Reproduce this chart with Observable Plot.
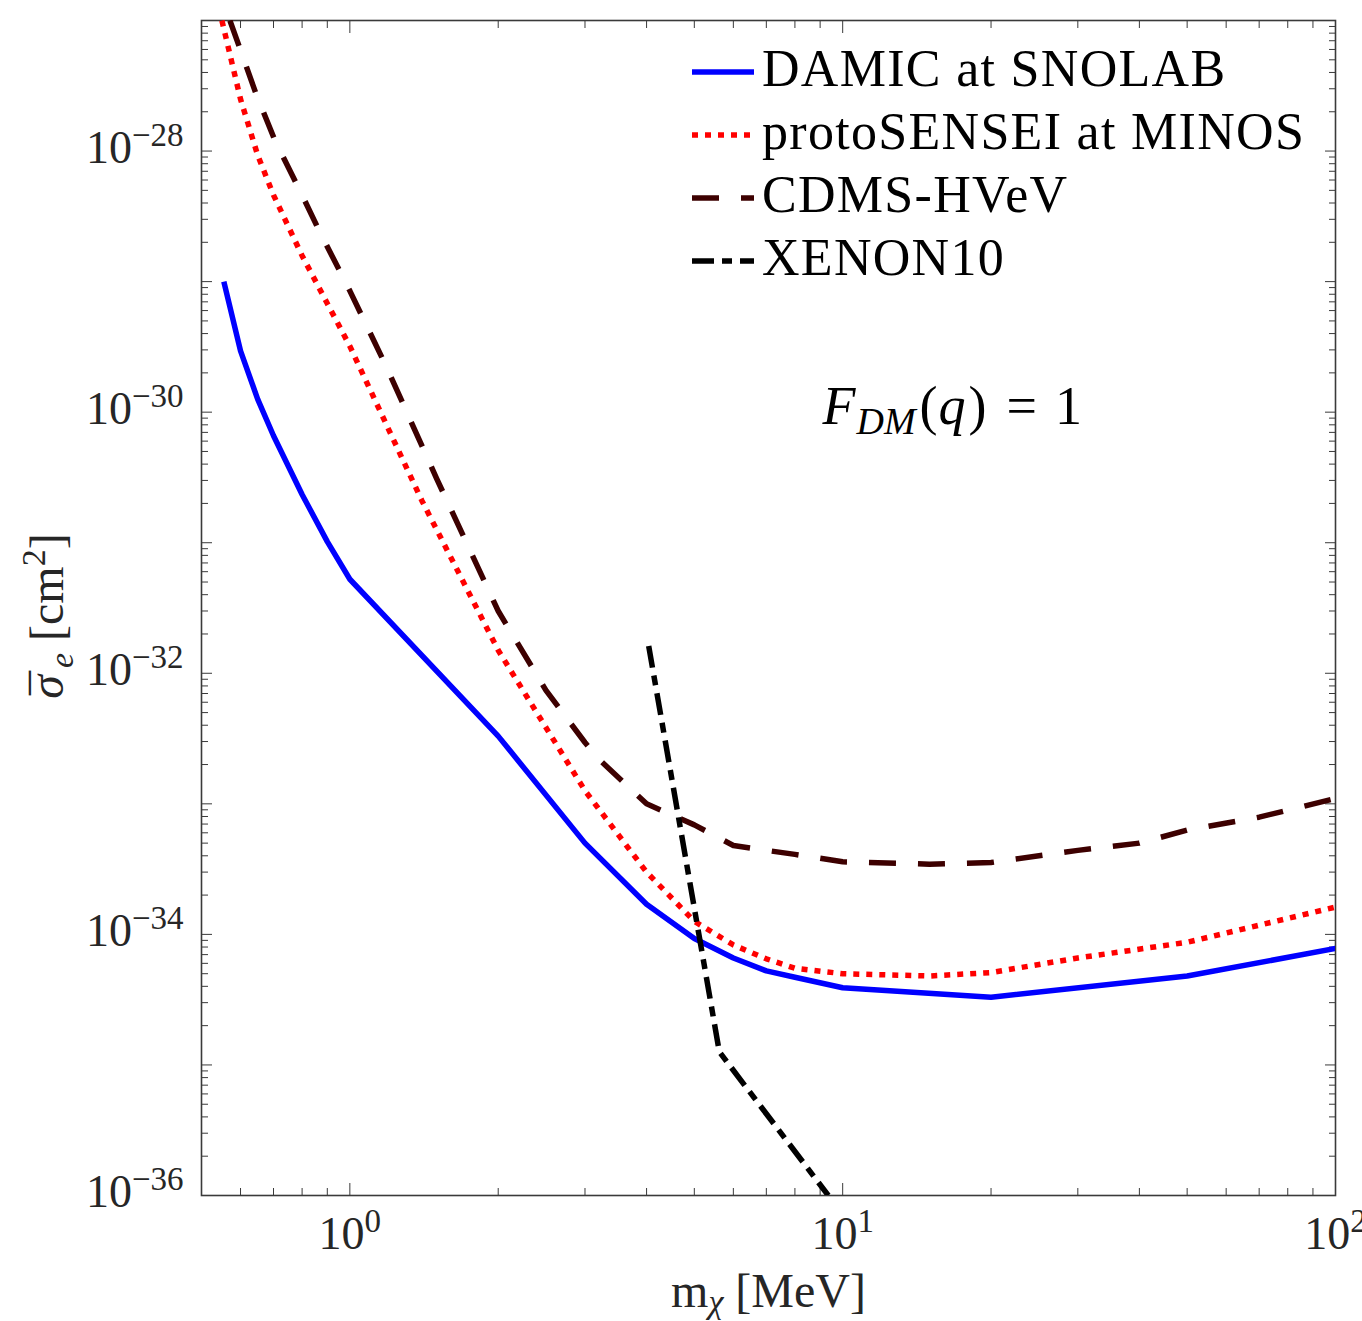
<!DOCTYPE html>
<html>
<head>
<meta charset="utf-8">
<script src="https://cdn.jsdelivr.net/npm/d3@7"></script>
<script src="https://cdn.jsdelivr.net/npm/@observablehq/plot@0.6"></script>
<style>
  html, body { margin: 0; padding: 0; background: #ffffff; }
  #chart svg { display: block; }
</style>
</head>
<body>
<div id="chart"></div>
<script>
// ---------------- data ----------------
const damicMass  = [0.555, 0.60, 0.65, 0.70, 0.80, 0.90, 1.0, 2.0, 3.0, 4.0, 5.0, 6.0, 7.0, 8.0, 10, 20, 50, 100];
const damicSigma = [1.0e-29, 2.95e-30, 1.26e-30, 6.6e-31, 2.34e-31, 1.02e-31, 5.25e-32, 3.3e-33, 5.0e-34, 1.7e-34, 9.3e-35, 6.6e-35, 5.25e-35, 4.7e-35, 3.9e-35, 3.3e-35, 4.8e-35, 7.8e-35];

const sensiMass  = [0.55, 0.60, 0.65, 0.70, 0.80, 0.90, 1.0, 1.4, 2.0, 3.0, 4.0, 5.0, 6.0, 7.0, 8.0, 10, 15, 20, 30, 50, 100];
const sensiSigma = [1.0e-27, 2.5e-28, 9.3e-29, 4.6e-29, 1.58e-29, 6.8e-30, 3.2e-30, 2.1e-31, 1.5e-32, 1.26e-33, 3.0e-34, 1.26e-34, 8.3e-35, 6.5e-35, 5.5e-35, 5.0e-35, 4.8e-35, 5.1e-35, 6.6e-35, 8.7e-35, 1.62e-34];

const cdmsMass  = [0.571, 0.645, 0.705, 0.80, 0.869, 1.0, 1.188, 1.5, 2.0, 2.5, 3.0, 3.2, 4.0, 5.0, 6.0, 7.0, 8.0, 10, 15, 20, 30, 40, 50, 70, 100];
const cdmsSigma = [1.0e-27, 2.75e-28, 1.2e-28, 4.6e-29, 2.4e-29, 8.5e-30, 2.2e-30, 3.1e-31, 3.0e-32, 7.4e-33, 2.95e-33, 2.2e-33, 1.0e-33, 6.9e-34, 4.8e-34, 4.4e-34, 4.1e-34, 3.6e-34, 3.45e-34, 3.55e-34, 4.4e-34, 5.0e-34, 6.3e-34, 7.9e-34, 1.1e-33];

const xenonMass  = [4.04, 5.62, 9.35];
const xenonSigma = [1.62e-32, 1.26e-35, 1.0e-36];

const seriesNames = ["DAMIC at SNOLAB", "protoSENSEI at MINOS", "CDMS-HVeV", "XENON10"];

// axis ticks
const xMajorTicks = [1, 10, 100];
const xMinorTicks = [0.6, 0.7, 0.8, 0.9, 2, 3, 4, 5, 6, 7, 8, 9, 20, 30, 40, 50, 60, 70, 80, 90];
const yDecadeExponents = [-36, -35, -34, -33, -32, -31, -30, -29, -28, -27];
const yLabelExponents = [-36, -34, -32, -30, -28];
const minorMultipliers = [2, 3, 4, 5, 6, 7, 8, 9];

const xAxisLabel = "m_chi [MeV]";
const yAxisLabel = "sigma_e [cm^2]";
const annotationText = "F_DM(q) = 1";

// ---------------- derived tables ----------------
const toRows = (m, s) => m.map((v, i) => ({m: v, s: s[i]}));
const damic = toRows(damicMass, damicSigma);
const sensi = toRows(sensiMass, sensiSigma);
const cdms = toRows(cdmsMass, cdmsSigma);
const xenon = toRows(xenonMass, xenonSigma);

const yMajorTicks = yDecadeExponents.map(e => +("1e" + e));
const yLabelTicks = yLabelExponents.map(e => +("1e" + e));
const yMinorTicks = yDecadeExponents.slice(0, -1).flatMap(e => minorMultipliers.map(k => +(k + "e" + e)));

// ---------------- styles ----------------
const FONT = "'Liberation Serif', 'DejaVu Serif', serif";
const AXIS_COLOR = "#3a3a3a";
const styles = [
  {stroke: "#0000ff", dash: null, width: 5.5},
  {stroke: "#ff0000", dash: "6,7", width: 5.5},
  {stroke: "#3d0000", dash: "27,22", width: 5.5},
  {stroke: "#000000", dash: "22,8,10,8", width: 5.5}
];

const legendMark = (index, scales, values, dims) => {
  const g = d3.create("svg:g")
    .attr("font-family", FONT).attr("font-size", 52)
    .attr("letter-spacing", 1.3)
    .attr("fill", "#000").attr("text-anchor", "start");
  seriesNames.forEach((name, i) => {
    const st = styles[i];
    const cy = 72 + i * 63;
    g.append("line")
      .attr("x1", 692).attr("x2", 754).attr("y1", cy).attr("y2", cy)
      .attr("stroke", st.stroke).attr("stroke-width", st.width)
      .attr("stroke-dasharray", st.dash);
    g.append("text").attr("x", 762).attr("y", 86 + i * 63).text(name);
  });
  return g.node();
};

const lineOpts = (i) => ({
  x: "m", y: "s", stroke: styles[i].stroke, strokeWidth: styles[i].width,
  strokeDasharray: styles[i].dash, strokeLinecap: "butt", strokeLinejoin: "round",
  clip: true
});

const chart = Plot.plot({
  width: 1362,
  height: 1321,
  marginLeft: 201,
  marginRight: 27,
  marginTop: 20,
  marginBottom: 126,
  style: {fontFamily: FONT, fontSize: "46px", color: "#262626", background: "#ffffff"},
  x: {type: "log", domain: [0.5, 100]},
  y: {type: "log", domain: [1e-36, 1e-27]},
  marks: [
    Plot.frame({stroke: AXIS_COLOR, strokeWidth: 1.6}),
    // inward ticks on all four sides
    Plot.axisX(xMajorTicks, {anchor: "bottom", tickSize: -12, fill: "none", stroke: AXIS_COLOR, label: null}),
    Plot.axisX(xMinorTicks, {anchor: "bottom", tickSize: -7, fill: "none", stroke: AXIS_COLOR, label: null}),
    Plot.axisX(xMajorTicks, {anchor: "top", tickSize: -12, fill: "none", stroke: AXIS_COLOR, label: null}),
    Plot.axisX(xMinorTicks, {anchor: "top", tickSize: -7, fill: "none", stroke: AXIS_COLOR, label: null}),
    Plot.axisY(yMajorTicks, {anchor: "left", tickSize: -11, fill: "none", stroke: AXIS_COLOR, label: null}),
    Plot.axisY(yMinorTicks, {anchor: "left", tickSize: -7, fill: "none", stroke: AXIS_COLOR, label: null}),
    Plot.axisY(yMajorTicks, {anchor: "right", tickSize: -11, fill: "none", stroke: AXIS_COLOR, label: null}),
    Plot.axisY(yMinorTicks, {anchor: "right", tickSize: -7, fill: "none", stroke: AXIS_COLOR, label: null}),
    // tick labels
    Plot.axisX(xMajorTicks, {anchor: "bottom", tickSize: 0, tickPadding: 21, label: null,
      tickFormat: d => "10^" + Math.round(Math.log10(d))}),
    Plot.axisY(yLabelTicks, {anchor: "left", tickSize: 0, tickPadding: 18, label: null, dy: -3,
      tickFormat: d => "10^" + Math.round(Math.log10(d))}),
    // axis titles + annotation
    Plot.text([xAxisLabel], {text: d => d, frameAnchor: "bottom", dy: 111, lineAnchor: "bottom", fontSize: 48, fill: "#262626"}),
    Plot.text([yAxisLabel], {text: d => d, frameAnchor: "left", dx: -154, dy: 8, rotate: -90, textAnchor: "middle", fontSize: 48, fill: "#262626"}),
    Plot.text([annotationText], {text: d => d, frameAnchor: "top-left", dx: 621, dy: 403, lineAnchor: "bottom", textAnchor: "start", fontSize: 54, fill: "#000"}),
    // data
    Plot.line(damic, lineOpts(0)),
    Plot.line(sensi, lineOpts(1)),
    Plot.line(cdms, lineOpts(2)),
    Plot.line(xenon, lineOpts(3)),
    legendMark
  ]
});

document.getElementById("chart").appendChild(chart);

// ---------------- rich text (superscripts / subscripts / italics) ----------------
function richText(el, parts) {
  const sel = d3.select(el);
  sel.text(null);
  let shift = 0;
  parts.forEach(p => {
    const ts = sel.append("tspan").text(p.t);
    const target = p.sup ? -p.sup : (p.sub ? p.sub : 0);
    if (target !== shift) { ts.attr("dy", target - shift); shift = target; }
    if (p.dx) ts.attr("dx", p.dx);
    if (p.size) ts.attr("font-size", p.size);
    if (p.it) ts.attr("font-style", "italic");
  });
}

const richMap = {
  [xAxisLabel]: [{t: "m"}, {t: "χ", it: true, sub: 6, size: 34}, {t: " [MeV]"}],
  [yAxisLabel]: [{t: "σ", it: true}, {t: "¯", sup: -3, dx: -20}, {t: "e", it: true, sub: 10, size: 34, dx: 3}, {t: " [cm"}, {t: "2", sup: 18, size: 34}, {t: "]"}],
  [annotationText]: [{t: "F", it: true}, {t: "DM", it: true, sub: 10, size: 38, dx: 1}, {t: "(", dx: 4}, {t: "q", it: true, dx: 1}, {t: ")", dx: 3}, {t: "=", dx: 20}, {t: "1", dx: 18}]
};

chart.querySelectorAll("text").forEach(el => {
  const s = el.textContent;
  if (richMap[s]) { richText(el, richMap[s]); return; }
  const m = /^10\^(-?\d+)$/.exec(s);
  if (m) {
    const exp = m[1].replace("-", "\u2212");
    richText(el, [{t: "10"}, {t: exp, sup: 17, size: 33}]);
  }
});
</script>
</body>
</html>
